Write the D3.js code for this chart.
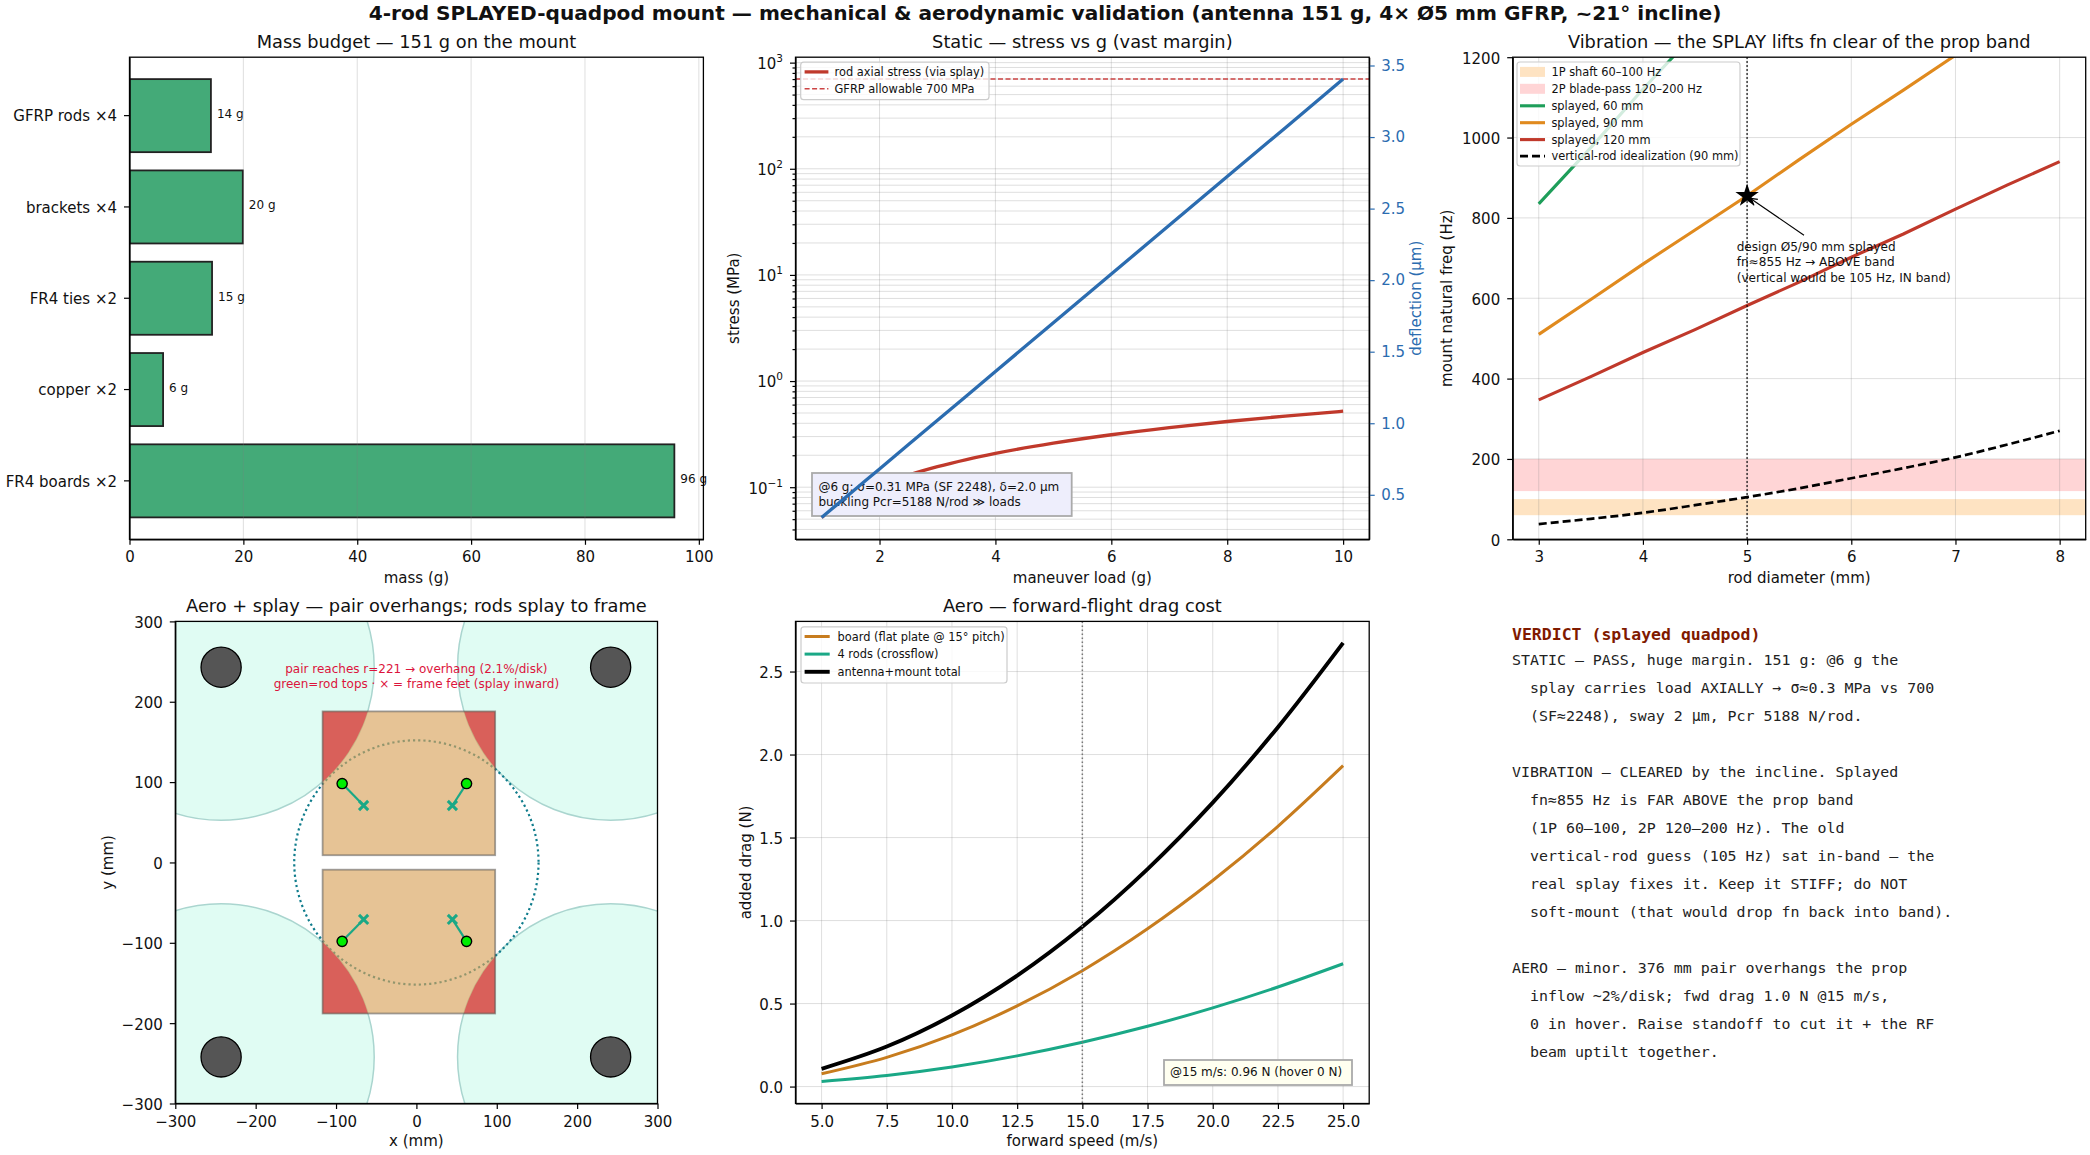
<!DOCTYPE html>
<html>
<head>
<meta charset="utf-8">
<script src="https://cdn.jsdelivr.net/npm/d3@7"></script>
<style>
  html, body { margin: 0; padding: 0; background: #fff; }
  svg { display: block; }
  text { font-family: "DejaVu Sans", sans-serif; fill: #111; }
  .tick text { font-size: 15px; }
  .tick line, .domain { stroke: #000; stroke-width: 1.2px; }
  .mono { font-family: "DejaVu Sans Mono", monospace; white-space: pre; }
</style>
</head>
<body>
<svg id="chart" width="2090" height="1155"></svg>
<script>

// mass budget
var massParts = ["GFRP rods ×4", "brackets ×4", "FR4 ties ×2", "copper ×2", "FR4 boards ×2"];
var massGrams = [14.3, 19.9, 14.5, 5.9, 95.7];

// static: stress and deflection against load
var loadG = [1, 1.25, 1.5, 1.75, 2, 2.5, 3, 3.5, 4, 5, 6, 7, 8, 9, 10];
var stressMPa = [0.052, 0.065, 0.078, 0.091, 0.104, 0.13, 0.156, 0.182, 0.208, 0.26, 0.312, 0.364, 0.416, 0.468, 0.52];
var deflectionUm = [0.341, 0.426, 0.511, 0.596, 0.681, 0.851, 1.021, 1.191, 1.362, 1.702, 2.043, 2.383, 2.724, 3.064, 3.405];
var allowableMPa = 700;

// vibration: natural frequency against rod diameter
var rodDiameter = [3, 3.5, 4, 4.5, 5, 5.5, 6, 6.5, 7, 7.5, 8];
var fnSplay60 = [835, 975, 1120, 1260, 1400, 1545, 1690, 1830, 1975, 2115, 2260];
var fnSplay90 = [510, 597, 685, 770, 855, 945, 1033, 1118, 1205, 1290, 1382];
var fnSplay120 = [347, 405, 465, 522, 582, 640, 702, 760, 822, 882, 940];
var fnVertical = [38, 51, 66, 85, 105, 127, 152, 177, 204, 236, 270];
var band1P = [60, 100];
var band2P = [120, 200];
var designPoint = [5, 855];

// plan view, mm
var propCentres = [[-243, 243], [241.7, 243], [-243, -242], [241.7, -242]];
var propRadius = 190.5;
var hubRadius = 25;
var frameRadius = 152;
var boards = [[-116.7, 9, 98, 188], [-116.7, -188, 98, -9]];
var rodTops = [[-92.4, 98.2], [62.4, 98.2], [-92.4, -98.2], [62.4, -98.2]];
var rodFeet = [[-65.7, 70.9], [44.8, 70.9], [-65.7, -70.9], [44.8, -70.9]];

// aero: drag against speed
var speed = [5, 7.5, 10, 12.5, 15, 17.5, 20, 22.5, 25];
var dragBoard = [0.077, 0.176, 0.311, 0.486, 0.698, 0.95, 1.241, 1.568, 1.933];
var dragRods = [0.031, 0.067, 0.118, 0.185, 0.267, 0.363, 0.474, 0.6, 0.74];
var dragTotal = [0.107, 0.241, 0.428, 0.668, 0.962, 1.31, 1.71, 2.165, 2.673];

var verdictLines = [
  "STATIC — PASS, huge margin. 151 g: @6 g the",
  "  splay carries load AXIALLY → σ≈0.3 MPa vs 700",
  "  (SF≈2248), sway 2 μm, Pcr 5188 N/rod.",
  "",
  "VIBRATION — CLEARED by the incline. Splayed",
  "  fn≈855 Hz is FAR ABOVE the prop band",
  "  (1P 60–100, 2P 120–200 Hz). The old",
  "  vertical-rod guess (105 Hz) sat in-band — the",
  "  real splay fixes it. Keep it STIFF; do NOT",
  "  soft-mount (that would drop fn back into band).",
  "",
  "AERO — minor. 376 mm pair overhangs the prop",
  "  inflow ~2%/disk; fwd drag 1.0 N @15 m/s,",
  "  0 in hover. Raise standoff to cut it + the RF",
  "  beam uptilt together."
];

var red = "#c0392b", blue = "#2b6cb0", green = "#1e9e5a", orange = "#e08a1e", teal = "#1aa886", brown = "#c77c1e";

var svg = d3.select("#chart");
var defs = svg.append("defs");

defs.append("marker").attr("id", "openHead")
    .attr("viewBox", "-10 -6 12 12").attr("markerWidth", 12).attr("markerHeight", 12)
    .attr("markerUnits", "userSpaceOnUse").attr("orient", "auto")
    .append("path").attr("d", "M-7,-3.5L0,0L-7,3.5").attr("fill", "none").attr("stroke", "#000").attr("stroke-width", 1.2);

// one set of axes: makes the group, clip and scale ranges//
var makePanel = function(id, box)
{
  var g = svg.append("g").attr("id", id);
  defs.append("clipPath").attr("id", "clip-" + id)
      .append("rect").attr("x", box.left).attr("y", box.top)
      .attr("width", box.right - box.left).attr("height", box.bottom - box.top);
  return { g: g, box: box, plot: g.append("g").attr("clip-path", "url(#clip-" + id + ")") };
}

var titleOf = function(p, text, y)
{
  p.g.append("text").attr("x", (p.box.left + p.box.right) / 2).attr("y", y + 0.7)
     .attr("text-anchor", "middle").attr("dominant-baseline", "middle")
     .style("font-size", "17.8px").text(text);
}

var xLabel = function(p, text, y)
{
  p.g.append("text").attr("x", (p.box.left + p.box.right) / 2).attr("y", y)
     .attr("text-anchor", "middle").attr("dominant-baseline", "middle")
     .style("font-size", "15px").text(text);
}

var yLabel = function(p, text, x, color)
{
  p.g.append("text").attr("transform", "translate(" + x + "," + (p.box.top + p.box.bottom) / 2 + ") rotate(-90)")
     .attr("text-anchor", "middle").attr("dominant-baseline", "middle")
     .style("font-size", "15px").style("fill", color || "#111").text(text);
}

var frame = function(p)
{
  p.g.append("rect").attr("x", p.box.left).attr("y", p.box.top)
     .attr("width", p.box.right - p.box.left).attr("height", p.box.bottom - p.box.top)
     .attr("fill", "none").attr("stroke", "#000").attr("stroke-width", 1.3);
}

var bottomAxis = function(p, scale, axis)
{
  p.g.append("g").attr("transform", "translate(0," + p.box.bottom + ")")
     .call(axis.tickSize(5.5).tickPadding(7).tickSizeOuter(0));
}

var leftAxis = function(p, scale, axis)
{
  var ax = p.g.append("g").attr("transform", "translate(" + p.box.left + ",0)")
     .call(axis.tickSize(5.5).tickPadding(7).tickSizeOuter(0));
  ax.selectAll(".tick text").attr("dy", "0.39em");
  return ax;
}

var gridX = function(p, scale, values)
{
  p.plot.append("g").selectAll("line").data(values).enter().append("line")
     .attr("x1", scale).attr("x2", scale).attr("y1", p.box.top).attr("y2", p.box.bottom)
     .attr("stroke", "#808080").attr("stroke-opacity", 0.25).attr("stroke-width", 1);
}

var gridY = function(p, scale, values)
{
  p.plot.append("g").selectAll("line").data(values).enter().append("line")
     .attr("y1", scale).attr("y2", scale).attr("x1", p.box.left).attr("x2", p.box.right)
     .attr("stroke", "#808080").attr("stroke-opacity", 0.25).attr("stroke-width", 1);
}

var drawCurve = function(layer, xs, ys, xScale, yScale, color, width, dash, curve)
{
  var line = d3.line().x(function(d) { return xScale(d[0]); }).y(function(d) { return yScale(d[1]); })
               .curve(curve || d3.curveLinear);
  return layer.append("path").datum(d3.zip(xs, ys)).attr("d", line)
     .attr("fill", "none").attr("stroke", color).attr("stroke-width", width)
     .attr("stroke-dasharray", dash || null);
}

// legend entries are {label, color, width, dash} or {label, swatch}//
var legend = function(p, entries, box, textX, handle, rowYs)
{
  var g = p.g.append("g");
  g.append("rect").attr("x", box[0]).attr("y", box[1]).attr("width", box[2] - box[0]).attr("height", box[3] - box[1])
   .attr("rx", 3).attr("fill", "#fff").attr("fill-opacity", 0.8).attr("stroke", "#ccc").attr("stroke-width", 1.2);
  entries.forEach(function(e, i)
  {
    if (e.swatch) {
      g.append("rect").attr("x", handle[0]).attr("y", rowYs[i] - 5).attr("width", handle[1] - handle[0]).attr("height", 10)
       .attr("fill", e.swatch);
    } else {
      g.append("line").attr("x1", handle[0]).attr("x2", handle[1]).attr("y1", rowYs[i]).attr("y2", rowYs[i])
       .attr("stroke", e.color).attr("stroke-width", e.width).attr("stroke-dasharray", e.dash || null);
    }
    g.append("text").attr("x", textX).attr("y", rowYs[i] + 0.5).attr("dominant-baseline", "middle")
     .style("font-size", "11.4px").text(e.label);
  });
}

// figure title//
svg.append("text").attr("x", 1045).attr("y", 14.5).attr("text-anchor", "middle").attr("dominant-baseline", "middle")
   .style("font-size", "20.12px").style("font-weight", "bold")
   .text("4-rod SPLAYED-quadpod mount — mechanical & aerodynamic validation (antenna 151 g, 4× Ø5 mm GFRP, ~21° incline)");

// ---- mass budget ----//
var drawMass = function()
{
  var p = makePanel("mass", {left: 129.5, right: 703.4, top: 57.2, bottom: 539.3});
  var x = d3.scaleLinear().domain([0, 100.8]).range([p.box.left, p.box.right]);
  var y = d3.scaleBand().domain(massParts).range([p.box.top, p.box.bottom]).paddingInner(0.2).paddingOuter(0.24);

  var bars = d3.zip(massParts, massGrams);
  p.plot.selectAll("rect.bar").data(bars).enter().append("rect").attr("class", "bar")
     .attr("x", x(0)).attr("y", function(d) { return y(d[0]); })
     .attr("width", function(d) { return x(d[1]) - x(0); }).attr("height", y.bandwidth())
     .attr("fill", "#44aa78").attr("stroke", "#222").attr("stroke-width", 1.8);
  gridX(p, x, d3.range(20, 101, 20));

  p.g.selectAll("text.val").data(bars).enter().append("text").attr("class", "val")
     .attr("x", function(d) { return x(d[1]) + 6; })
     .attr("y", function(d) { return y(d[0]) + y.bandwidth() / 2 - 1; })
     .attr("dominant-baseline", "middle").style("font-size", "12px")
     .text(function(d) { return Math.round(d[1]) + " g"; });

  bottomAxis(p, x, d3.axisBottom(x).tickValues(d3.range(0, 101, 20)));
  leftAxis(p, y, d3.axisLeft(y));
  frame(p);
  titleOf(p, "Mass budget — 151 g on the mount", 41.8);
  xLabel(p, "mass (g)", 578);
}

// ---- static stress ----//
var drawStatic = function()
{
  var p = makePanel("static", {left: 795.5, right: 1369.2, top: 57.2, bottom: 539.3});
  var x = d3.scaleLinear().domain([0.55, 10.45]).range([p.box.left, p.box.right]);
  var y = d3.scaleLog().domain([0.0323, 1125]).range([p.box.bottom, p.box.top]);
  var y2 = d3.scaleLinear().domain([0.189, 3.558]).range([p.box.bottom, p.box.top]);

  var majors = [0.1, 1, 10, 100, 1000];
  var minors = [];
  [0.01, 0.1, 1, 10, 100].forEach(function(dec)
  {
    d3.range(2, 10).forEach(function(m)
    {
      var v = dec * m;
      if (v > y.domain()[0] && v < y.domain()[1]) minors.push(v);
    });
  });

  gridX(p, x, [2, 4, 6, 8, 10]);
  gridY(p, y, majors);
  gridY(p, y, minors);

  drawCurve(p.plot, loadG, stressMPa, x, y, red, 3.3, null, d3.curveMonotoneX);
  p.plot.append("line").attr("x1", p.box.left).attr("x2", p.box.right).attr("y1", y(allowableMPa)).attr("y2", y(allowableMPa))
     .attr("stroke", "#cc4444").attr("stroke-width", 1.6).attr("stroke-dasharray", "5,2.5");

  legend(p, [
    {label: "rod axial stress (via splay)", color: red, width: 3.3},
    {label: "GFRP allowable 700 MPa", color: "#cc4444", width: 1.6, dash: "5,2.5"}
  ], [800.7, 62.1, 989, 99.7], 834.5, [804.6, 828.4], [71.9, 88.8]);

  // note box sits over the red line but under the blue one//
  p.g.append("rect").attr("x", 812).attr("y", 473).attr("width", 259.7).attr("height", 43)
     .attr("fill", "#eeeefc").attr("stroke", "#aaa").attr("stroke-width", 1.8);
  p.g.append("text").attr("x", 818.4).attr("y", 487).attr("dominant-baseline", "middle").style("font-size", "12px")
     .text("@6 g: σ=0.31 MPa (SF 2248), δ=2.0 μm");
  p.g.append("text").attr("x", 818.4).attr("y", 502.4).attr("dominant-baseline", "middle").style("font-size", "12px")
     .text("buckling Pcr=5188 N/rod ≫ loads");

  drawCurve(p.g.append("g"), loadG, deflectionUm, x, y2, blue, 3.3);

  bottomAxis(p, x, d3.axisBottom(x).tickValues([2, 4, 6, 8, 10]));

  // log axis: minor ticks first, then 10 with a raised exponent//
  p.g.append("g").attr("transform", "translate(" + p.box.left + ",0)")
     .call(d3.axisLeft(y).tickValues(minors).tickSize(3).tickFormat("").tickSizeOuter(0))
     .select(".domain").remove();
  var ax = leftAxis(p, y, d3.axisLeft(y).tickValues(majors).tickFormat(function() { return ""; }));
  ax.selectAll(".tick text").each(function(d)
  {
    var t = d3.select(this);
    t.append("tspan").text("10");
    t.append("tspan").attr("dy", -7).style("font-size", "10.5px")
     .text(d3.format("d")(Math.round(Math.log10(d))));
  });

  var right = p.g.append("g").attr("transform", "translate(" + p.box.right + ",0)")
     .call(d3.axisRight(y2).tickValues([0.5, 1, 1.5, 2, 2.5, 3, 3.5]).tickFormat(d3.format(".1f")).tickSize(5.5).tickPadding(6.5).tickSizeOuter(0));
  right.selectAll(".tick text").style("fill", blue);
  right.selectAll(".tick line").style("stroke", blue);

  frame(p);
  titleOf(p, "Static — stress vs g (vast margin)", 41.8);
  xLabel(p, "maneuver load (g)", 578);
  yLabel(p, "stress (MPa)", 734.3);
  yLabel(p, "deflection (μm)", 1416.7, blue);
}

// ---- vibration ----//
var drawVibration = function()
{
  var p = makePanel("vibration", {left: 1512.7, right: 2085.7, top: 57.2, bottom: 539.3});
  var x = d3.scaleLinear().domain([2.75, 8.25]).range([p.box.left, p.box.right]);
  var y = d3.scaleLinear().domain([0, 1200]).range([p.box.bottom, p.box.top]);

  p.plot.append("rect").attr("x", p.box.left).attr("width", p.box.right - p.box.left)
     .attr("y", y(band1P[1])).attr("height", y(band1P[0]) - y(band1P[1])).attr("fill", "#fee3c2");
  p.plot.append("rect").attr("x", p.box.left).attr("width", p.box.right - p.box.left)
     .attr("y", y(band2P[1])).attr("height", y(band2P[0]) - y(band2P[1])).attr("fill", "#ffd5d6");

  gridX(p, x, [3, 4, 5, 6, 7, 8]);
  gridY(p, y, d3.range(0, 1201, 200));

  drawCurve(p.plot, rodDiameter, fnSplay60, x, y, green, 3.1);
  drawCurve(p.plot, rodDiameter, fnSplay90, x, y, orange, 3.1);
  drawCurve(p.plot, rodDiameter, fnSplay120, x, y, red, 3.1);
  drawCurve(p.plot, rodDiameter, fnVertical, x, y, "#000", 2.7, "8,4", d3.curveMonotoneX);

  p.plot.append("line").attr("x1", x(designPoint[0])).attr("x2", x(designPoint[0])).attr("y1", p.box.top).attr("y2", p.box.bottom)
     .attr("stroke", "#000").attr("stroke-width", 1.5).attr("stroke-dasharray", "1.5,2.5");

  p.g.append("line").attr("x1", 1804).attr("y1", 235.2)
     .attr("x2", x(designPoint[0]) + 3).attr("y2", y(designPoint[1]) + 2.5)
     .attr("stroke", "#000").attr("stroke-width", 1.1).attr("marker-end", "url(#openHead)");
  p.g.append("path").attr("transform", "translate(" + x(designPoint[0]) + "," + y(designPoint[1]) + ")")
     .attr("d", d3.symbol().type(d3.symbolStar).size(170)());

  var note = ["design Ø5/90 mm splayed", "fn≈855 Hz → ABOVE band", "(vertical would be 105 Hz, IN band)"];
  p.g.selectAll("text.note").data(note).enter().append("text").attr("class", "note")
     .attr("x", 1736.7).attr("y", function(d, i) { return 247 + i * 15.5; })
     .attr("dominant-baseline", "middle").style("font-size", "12.1px").text(function(d) { return d; });

  legend(p, [
    {label: "1P shaft 60–100 Hz", swatch: "#fee3c2"},
    {label: "2P blade-pass 120–200 Hz", swatch: "#ffd5d6"},
    {label: "splayed, 60 mm", color: green, width: 3.1},
    {label: "splayed, 90 mm", color: orange, width: 3.1},
    {label: "splayed, 120 mm", color: red, width: 3.1},
    {label: "vertical-rod idealization (90 mm)", color: "#000", width: 2.7, dash: "8,4"}
  ], [1517, 62, 1740, 166], 1551.4, [1520, 1545], [71.9, 88.8, 105.8, 122.7, 139.6, 156.2]);

  bottomAxis(p, x, d3.axisBottom(x).tickValues([3, 4, 5, 6, 7, 8]).tickFormat(d3.format("d")));
  leftAxis(p, y, d3.axisLeft(y).tickValues(d3.range(0, 1201, 200)).tickFormat(d3.format("d")));
  frame(p);
  titleOf(p, "Vibration — the SPLAY lifts fn clear of the prop band", 41.8);
  xLabel(p, "rod diameter (mm)", 578);
  yLabel(p, "mount natural freq (Hz)", 1447);
}

// ---- plan view ----//
var drawPlan = function()
{
  var p = makePanel("plan", {left: 175.3, right: 657.5, top: 621.4, bottom: 1103.5});
  var x = d3.scaleLinear().domain([-300, 300]).range([p.box.left, p.box.right]);
  var y = d3.scaleLinear().domain([-300, 300]).range([p.box.bottom, p.box.top]);
  var rPx = function(r) { return x(r) - x(0); };

  p.plot.selectAll("circle.disk").data(propCentres).enter().append("circle").attr("class", "disk")
     .attr("cx", function(d) { return x(d[0]); }).attr("cy", function(d) { return y(d[1]); }).attr("r", rPx(propRadius))
     .attr("fill", "#e0fcf3").attr("stroke", "#aad5cf").attr("stroke-width", 1.5);

  p.plot.append("circle").attr("cx", x(0)).attr("cy", y(0)).attr("r", rPx(frameRadius))
     .attr("fill", "none").attr("stroke", "#0f7c8c").attr("stroke-width", 2.2).attr("stroke-dasharray", "2.2,3");

  var boardRect = function(sel)
  {
    sel.attr("x", function(d) { return x(d[0]); }).attr("y", function(d) { return y(d[3]); })
       .attr("width", function(d) { return x(d[2]) - x(d[0]); }).attr("height", function(d) { return y(d[1]) - y(d[3]); });
  }

  p.plot.selectAll("rect.board").data(boards).enter().append("rect").attr("class", "board")
     .call(boardRect).attr("fill", "#d9a35c").attr("fill-opacity", 0.65);

  // overhang = part of each board inside a prop disk//
  var clip = defs.append("clipPath").attr("id", "boardClip");
  clip.selectAll("rect").data(boards).enter().append("rect").call(boardRect);
  p.plot.append("g").attr("clip-path", "url(#boardClip)")
     .selectAll("circle").data(propCentres).enter().append("circle")
     .attr("cx", function(d) { return x(d[0]); }).attr("cy", function(d) { return y(d[1]); }).attr("r", rPx(propRadius))
     .attr("fill", "#d9605a");

  p.plot.selectAll("rect.edge").data(boards).enter().append("rect").attr("class", "edge")
     .call(boardRect).attr("fill", "none").attr("stroke", "#555").attr("stroke-opacity", 0.55).attr("stroke-width", 1.8);

  p.plot.selectAll("circle.hub").data(propCentres).enter().append("circle").attr("class", "hub")
     .attr("cx", function(d) { return x(d[0]); }).attr("cy", function(d) { return y(d[1]); }).attr("r", rPx(hubRadius))
     .attr("fill", "#555").attr("stroke", "#000").attr("stroke-width", 1.3);

  var rods = d3.zip(rodTops, rodFeet);
  p.plot.selectAll("line.rod").data(rods).enter().append("line").attr("class", "rod")
     .attr("x1", function(d) { return x(d[0][0]); }).attr("y1", function(d) { return y(d[0][1]); })
     .attr("x2", function(d) { return x(d[1][0]); }).attr("y2", function(d) { return y(d[1][1]); })
     .attr("stroke", teal).attr("stroke-width", 2.2);
  p.plot.selectAll("path.foot").data(rodFeet).enter().append("path").attr("class", "foot")
     .attr("transform", function(d) { return "translate(" + x(d[0]) + "," + y(d[1]) + ")"; })
     .attr("d", "M-4.6,-4.6L4.6,4.6M-4.6,4.6L4.6,-4.6").attr("stroke", teal).attr("stroke-width", 3).attr("fill", "none");
  p.plot.selectAll("circle.top").data(rodTops).enter().append("circle").attr("class", "top")
     .attr("cx", function(d) { return x(d[0]); }).attr("cy", function(d) { return y(d[1]); }).attr("r", 5.1)
     .attr("fill", "#00ee00").attr("stroke", "#000").attr("stroke-width", 1.4);

  p.g.append("text").attr("x", x(0)).attr("y", 669).attr("text-anchor", "middle").attr("dominant-baseline", "middle")
     .style("font-size", "12px").style("fill", "#dc143c").text("pair reaches r=221 → overhang (2.1%/disk)");
  p.g.append("text").attr("x", x(0)).attr("y", 684.5).attr("text-anchor", "middle").attr("dominant-baseline", "middle")
     .style("font-size", "12px").style("fill", "#dc143c").text("green=rod tops · × = frame feet (splay inward)");

  var ticks = d3.range(-300, 301, 100);
  bottomAxis(p, x, d3.axisBottom(x).tickValues(ticks));
  leftAxis(p, y, d3.axisLeft(y).tickValues(ticks));
  frame(p);
  titleOf(p, "Aero + splay — pair overhangs; rods splay to frame", 605.9);
  xLabel(p, "x (mm)", 1141.7);
  yLabel(p, "y (mm)", 108);
}

// ---- aero drag ----//
var drawAero = function()
{
  var p = makePanel("aero", {left: 795.5, right: 1369.2, top: 621.4, bottom: 1103.5});
  var x = d3.scaleLinear().domain([4, 26]).range([p.box.left, p.box.right]);
  var y = d3.scaleLinear().domain([-0.102, 2.802]).range([p.box.bottom, p.box.top]);
  var xt = [5, 7.5, 10, 12.5, 15, 17.5, 20, 22.5, 25], yt = [0, 0.5, 1, 1.5, 2, 2.5];

  gridX(p, x, xt);
  gridY(p, y, yt);

  drawCurve(p.plot, speed, dragBoard, x, y, brown, 3, null, d3.curveCatmullRom);
  drawCurve(p.plot, speed, dragRods, x, y, teal, 3, null, d3.curveCatmullRom);
  drawCurve(p.plot, speed, dragTotal, x, y, "#000", 3.9, null, d3.curveCatmullRom);

  p.plot.append("line").attr("x1", x(15)).attr("x2", x(15)).attr("y1", p.box.top).attr("y2", p.box.bottom)
     .attr("stroke", "#777").attr("stroke-width", 1.5).attr("stroke-dasharray", "1.5,2.5");

  legend(p, [
    {label: "board (flat plate @ 15° pitch)", color: brown, width: 3},
    {label: "4 rods (crossflow)", color: teal, width: 3},
    {label: "antenna+mount total", color: "#000", width: 3.9}
  ], [801, 626.8, 1007, 683], 837.5, [804.6, 829.7], [636.5, 654.1, 671.8]);

  p.g.append("rect").attr("x", 1164).attr("y", 1060).attr("width", 188).attr("height", 25)
     .attr("fill", "#fffff0").attr("stroke", "#aaa").attr("stroke-width", 1.8);
  p.g.append("text").attr("x", 1170).attr("y", 1072.5).attr("dominant-baseline", "middle").style("font-size", "12px")
     .text("@15 m/s: 0.96 N (hover 0 N)");

  bottomAxis(p, x, d3.axisBottom(x).tickValues(xt).tickFormat(d3.format(".1f")));
  leftAxis(p, y, d3.axisLeft(y).tickValues(yt).tickFormat(d3.format(".1f")));
  frame(p);
  titleOf(p, "Aero — forward-flight drag cost", 605.9);
  xLabel(p, "forward speed (m/s)", 1141.7);
  yLabel(p, "added drag (N)", 746);
}

// ---- verdict text ----//
var drawVerdict = function()
{
  var g = svg.append("g").attr("id", "verdict");
  g.append("text").attr("class", "mono").attr("x", 1512).attr("y", 635).attr("dominant-baseline", "middle")
   .style("font-size", "16.5px").style("font-weight", "bold").style("fill", "#801a00").text("VERDICT (splayed quadpod)");
  g.selectAll("text.line").data(verdictLines).enter().append("text").attr("class", "mono line")
   .attr("x", 1512).attr("y", function(d, i) { return 661.2 + i * 28; }).attr("dominant-baseline", "middle")
   .style("font-size", "14.93px").style("fill", "#222").text(function(d) { return d; });
}

drawMass();
drawStatic();
drawVibration();
drawPlan();
drawAero();
drawVerdict();
</script>
</body>
</html>
